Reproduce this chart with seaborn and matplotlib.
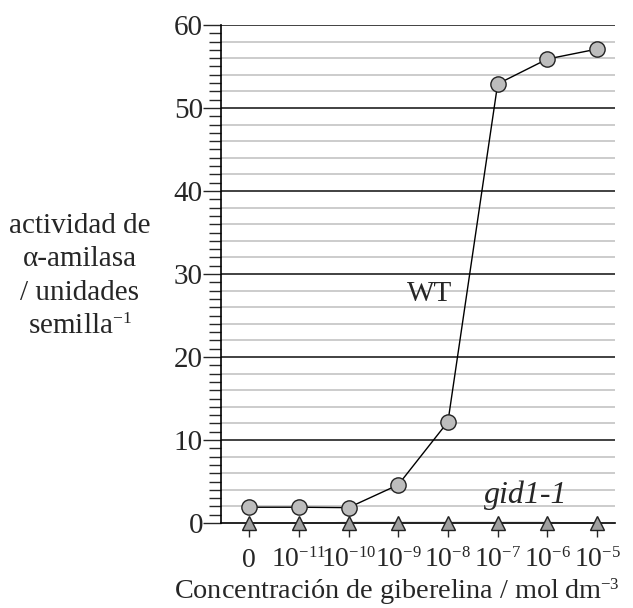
import matplotlib
matplotlib.use("Agg")
import matplotlib.pyplot as plt
import matplotlib._mathtext as _mt
import seaborn as sns
import pandas as pd
import numpy as np
from matplotlib.ticker import MultipleLocator

_mt.SHRINK_FACTOR = 0.6

sns.set_style("white")
plt.rcParams['font.family'] = ['Liberation Serif', 'DejaVu Serif']
plt.rcParams['mathtext.fontset'] = 'custom'
plt.rcParams['mathtext.rm'] = 'Liberation Serif'
plt.rcParams['mathtext.it'] = 'Liberation Serif:italic'

conc_labels = ["0", r"10$^{-11}$", r"10$^{-10}$", r"10$^{-9}$", r"10$^{-8}$",
               r"10$^{-7}$", r"10$^{-6}$", r"10$^{-5}$"]
wt_values = [1.9, 1.9, 1.85, 4.6, 12.2, 52.9, 55.9, 57.1]
gid_values = [0.0, 0.0, 0.05, 0.05, 0.05, 0.05, 0.05, 0.0]
ylabel_lines = ["actividad de", "α-amilasa", "/ unidades", "semilla$^{-1}$"]

pos = np.arange(len(conc_labels))
df = pd.DataFrame({"x": np.concatenate([pos, pos]),
                   "y": wt_values + gid_values,
                   "serie": ["WT"] * len(pos) + ["gid1-1"] * len(pos)})

fig = plt.figure(figsize=(6.33, 6.08), dpi=100)
ax = fig.add_axes([221/633, 1 - 523/608, (615-221)/633, (523-25)/608])

# gridlines
for v in np.arange(2, 60, 2):
    if v % 10 != 0:
        ax.axhline(v, color="#c8c8c8", lw=1.3, zorder=0)
for v in range(10, 61, 10):
    ax.axhline(v, color="#333333", lw=1.3, zorder=0.5)

sns.lineplot(data=df[df.serie == "WT"], x="x", y="y", ax=ax, color="black", lw=1.0,
             marker="o", markersize=11, markerfacecolor="#bdbdbd", markeredgecolor="#222222",
             markeredgewidth=1.0, zorder=5, legend=False)
sns.lineplot(data=df[df.serie == "gid1-1"], x="x", y="y", ax=ax, color="#222222", lw=1.0,
             marker="^", markersize=10, markerfacecolor="#a0a0a0", markeredgecolor="#222222",
             markeredgewidth=1.0, zorder=6, legend=False, clip_on=False)

ax.set_xlim(-0.565, 7.36)
ax.set_ylim(0, 60)
ax.set_xticks(pos)
ax.set_xticklabels(conc_labels, fontsize=20)
ax.set_yticks(range(0, 61, 10))
ax.set_yticklabels([str(v) for v in range(0, 61, 10)], fontsize=21)
ax.yaxis.set_minor_locator(MultipleLocator(1))
ax.tick_params(axis="y", which="major", direction="out", length=13, width=1.0, pad=0, left=True)
ax.tick_params(axis="y", which="minor", direction="out", length=9, width=1.0, left=True)
ax.tick_params(axis="x", which="major", direction="out", length=10, width=1.0, pad=8, bottom=True)

for s in ["top", "right"]:
    ax.spines[s].set_visible(False)
ax.spines["left"].set_color("black")
ax.spines["bottom"].set_color("black")
ax.spines["left"].set_linewidth(1.2)
ax.spines["bottom"].set_linewidth(1.2)
ax.set_xlabel("")
ax.set_ylabel("")

ax.text(3.63, 26.8, "WT", fontsize=21, ha="center", va="baseline")
ax.text(5.56, 2.4, "gid1-1", fontsize=23, ha="center", va="baseline", style="italic")

for i, line in enumerate(ylabel_lines):
    fig.text(80/633, 1 - (233 + 33.5 * i)/608, line, ha="center", va="baseline", fontsize=21)
fig.text(397/633, 1 - 599/608, "Concentración de giberelina / mol\u2009dm$^{-3}$",
         ha="center", va="baseline", fontsize=20.3)

fig.savefig("out.png", dpi=100)
